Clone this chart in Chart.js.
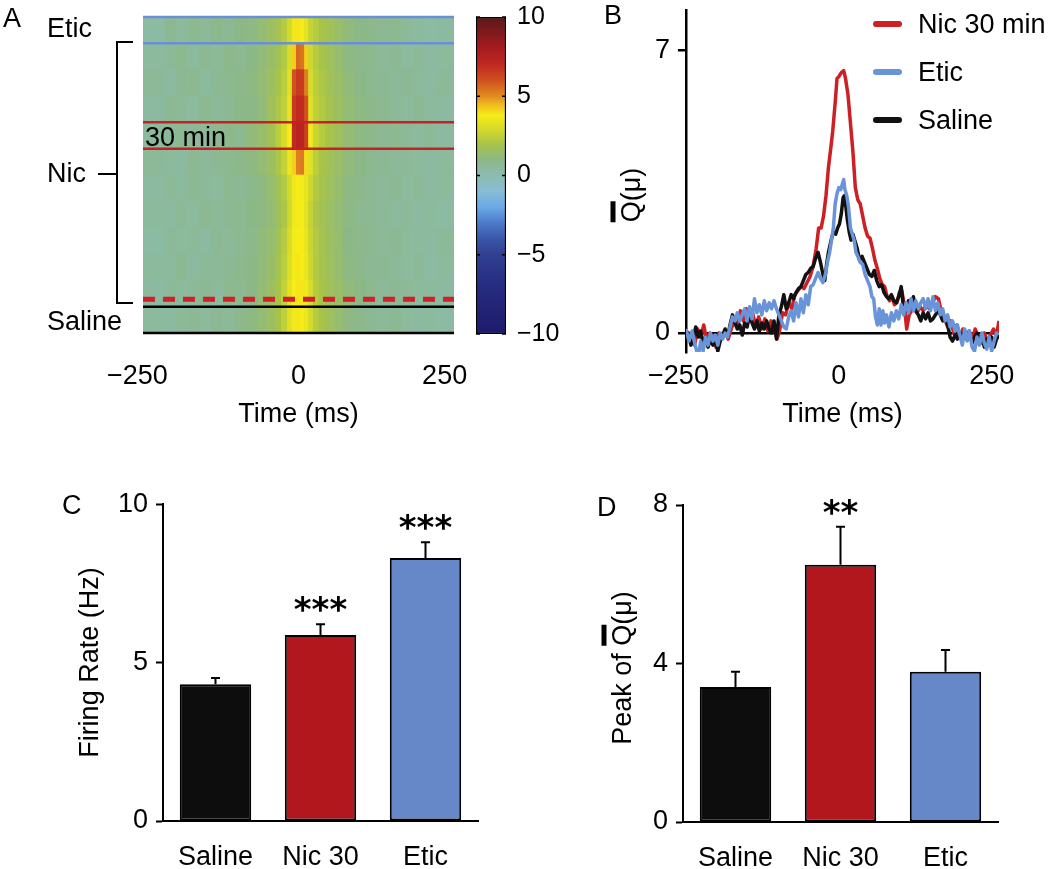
<!DOCTYPE html>
<html>
<head>
<meta charset="utf-8">
<script src="https://cdn.jsdelivr.net/npm/chart.js@4.4.0/dist/chart.umd.min.js"></script>
<style>
  body { margin: 0; background: #fff; font-family: "Liberation Sans", Arial, sans-serif; }
  #fig { position: relative; width: 1050px; height: 869px; overflow: hidden; background: #fff; }
  canvas { position: absolute; }
  .t { position: absolute; font-size: 27px; line-height: 1; color: #000; white-space: nowrap; transform: translateY(-50%); }
  .ln { position: absolute; background: #000; }
  .rot { position: absolute; font-size: 27px; line-height: 1; white-space: nowrap; transform: translate(-50%, -50%) rotate(-90deg); }
  .ov { text-decoration: overline; text-decoration-thickness: 5px; }
</style>
</head>
<body>
<div id="fig">
  <canvas id="heat" width="470" height="440" style="left:0;top:0"></canvas>
  <canvas id="cbar" width="110" height="360" style="left:460px;top:0"></canvas>
  <canvas id="ccg" width="490" height="440" style="left:560px;top:0"></canvas>
  <canvas id="rate" width="520" height="389" style="left:0;top:480px"></canvas>
  <canvas id="peak" width="520" height="389" style="left:530px;top:480px"></canvas>

  <div class="t" style="left:3px;top:18px">A</div>
  <div class="t" style="left:604px;top:15px">B</div>
  <div class="t" style="left:62px;top:505px">C</div>
  <div class="t" style="left:597px;top:507px">D</div>

  <div class="t" style="left:47px;top:28px">Etic</div>
  <div class="t" style="left:47px;top:173px">Nic</div>
  <div class="t" style="left:47px;top:321px">Saline</div>
  <div class="t" style="left:145px;top:137px">30 min</div>
  <div class="ln" style="left:116px;top:42px;width:2px;height:262px"></div>
  <div class="ln" style="left:116px;top:41px;width:17px;height:2px"></div>
  <div class="ln" style="left:116px;top:302px;width:17px;height:2px"></div>
  <div class="ln" style="left:98px;top:173px;width:18px;height:2px"></div>

  <div class="rot" style="left:631px;top:195px"><span class="ov">Q</span>(μ)</div>
  <div class="rot" style="left:622px;top:668px">Peak of <span class="ov">Q</span>(μ)</div>
  <div id="legend"></div>
</div>

<script>
// ---------- data ----------
// A: heat map, time bin edges (ms) and one row of values per recording block, top to bottom
const timeEdges = [-266,-230,-210,-190,-170,-150,-130,-110,-90,-70,-55,-40,-30,-20,-12,-5,2,9,16,24,34,45,60,75,95,115,135,155,175,195,215,235,266];
const heatRows = ['Etic','Nic 10','Nic 9','Nic 8','Nic 7','Nic 6','Nic 5','Nic 4','Nic 3','Nic 2','Nic 1','Saline'];
const heat = [
  [0.3,0.7,0.5,0.8,0.6,0.9,0.7,1.0,1.1,1.3,1.6,1.9,2.3,2.9,3.6,3.9,3.8,3.3,2.6,2.3,2.0,1.8,1.5,1.2,1.0,0.9,0.7,0.8,0.6,0.5,0.3,0.4],
  [0.5,0.6,0.8,0.5,0.7,0.6,0.9,0.8,1.0,1.2,1.5,1.8,2.2,3.0,4.2,5.6,5.4,4.2,2.8,2.3,2.0,1.7,1.4,1.1,0.9,0.8,0.6,0.7,0.5,0.6,0.4,0.5],
  [0.6,0.4,0.7,0.8,0.5,0.7,0.8,0.9,1.1,1.3,1.6,2.0,2.4,3.2,6.0,6.6,6.5,5.2,3.0,2.4,2.1,1.8,1.5,1.2,1.0,0.8,0.7,0.6,0.7,0.5,0.4,0.6],
  [0.4,0.7,0.6,0.5,0.8,0.6,0.7,1.0,1.0,1.2,1.7,2.1,2.5,3.4,6.6,7.0,6.9,6.0,3.2,2.5,2.2,1.9,1.6,1.3,1.1,0.9,0.8,0.6,0.5,0.7,0.5,0.4],
  [0.5,0.6,0.7,0.6,0.5,0.8,0.9,0.8,1.2,1.4,1.8,2.4,3.0,3.8,7.0,7.4,7.3,6.4,3.6,2.7,2.3,2.0,1.7,1.3,1.1,0.9,0.7,0.8,0.6,0.5,0.6,0.4],
  [0.6,0.5,0.4,0.7,0.6,0.7,0.8,0.9,1.1,1.3,1.6,2.1,2.6,3.5,4.2,5.2,5.3,4.0,3.2,2.4,2.0,1.8,1.5,1.2,1.0,0.8,0.7,0.6,0.6,0.5,0.4,0.5],
  [0.4,0.6,0.5,0.7,0.6,0.5,0.8,0.7,0.9,1.1,1.4,1.8,2.2,2.9,3.6,3.8,3.7,3.4,2.8,2.2,1.9,1.7,1.4,1.1,0.9,0.7,0.6,0.7,0.5,0.6,0.4,0.5],
  [0.5,0.4,0.6,0.5,0.7,0.6,0.7,0.8,1.0,1.1,1.3,1.7,2.1,2.8,3.6,3.7,3.8,3.3,2.6,2.1,1.8,1.6,1.3,1.1,0.8,0.7,0.6,0.5,0.6,0.4,0.5,0.3],
  [0.3,0.6,0.5,0.6,0.4,0.7,0.6,0.8,0.9,1.2,1.4,1.8,2.3,3.0,3.7,3.8,3.8,3.4,2.7,2.2,1.9,1.6,1.4,1.0,0.9,0.8,0.6,0.7,0.5,0.5,0.4,0.6],
  [0.5,0.5,0.7,0.4,0.6,0.6,0.7,0.9,1.0,1.2,1.5,1.9,2.4,3.1,3.7,3.9,3.8,3.5,2.8,2.2,1.9,1.7,1.4,1.1,0.9,0.7,0.7,0.6,0.5,0.6,0.3,0.5],
  [0.4,0.6,0.5,0.6,0.7,0.5,0.8,0.8,1.0,1.3,1.6,2.0,2.6,3.3,3.8,3.9,3.9,3.6,3.0,2.3,2.0,1.7,1.5,1.2,1.0,0.8,0.6,0.7,0.6,0.5,0.5,0.4],
  [0.5,0.4,0.6,0.7,0.5,0.7,0.6,0.9,1.1,1.3,1.6,2.0,2.5,3.2,3.7,3.9,3.8,3.5,2.9,2.3,2.0,1.7,1.4,1.1,0.9,0.7,0.6,0.7,0.5,0.4,0.5,0.3]
];
const timeTicks = [-250, 0, 250];
const cbarTicks = [-10, -5, 0, 5, 10];
const cmapVals = [-10,-7,-5,-4,-3,-2,-1,0,1,2,3,3.8,4.5,5,6,7,8,9,10];
const cmapCols = ['#1e1a6a','#262c80','#30408f','#3a56a8','#4c7ac8','#6aaae6','#88bcd4','#8cbcb0','#8cb888','#a8c448','#d8dc28','#f6ec18','#f0b820','#e08c20','#d05020','#c02820','#a81c20','#801a1c','#5a1818'];

// B: averaged Q(mu) traces
const nicT = [-250,-245,-240,-236,-231,-226,-221,-216,-211,-206,-201,-196,-191,-186,-181,-176,-171,-166,-161,-156,-151,-146,-141,-136,-131,-126,-121,-116,-111,-106,-101,-97,-92,-87,-82,-77,-72,-67,-62,-57,-52,-47,-42,-37,-33,-29,-25,-21,-17,-13,-10,-6,-3,0,4,8,11,15,19,23,27,31,35,39,43,47,51,55,59,63,67,71,75,79,83,87,91,95,99,103,107,111,115,119,123,128,133,138,143,148,153,158,163,168,173,178,183,188,193,198,203,208,213,218,223,228,233,238,243,248,253,258,262];
const nicQ = [0.1,-0.2,0.0,-0.3,0.1,-0.1,0.2,-0.2,0.0,-0.1,-0.35,0.0,-0.1,0.05,-0.15,0.1,0.3,0.15,0.55,0.3,0.6,0.35,0.5,0.15,0.4,0.1,0.35,0.05,0.3,0.1,-0.15,0.05,0.5,0.45,0.75,0.6,0.95,1.05,1.15,1.1,1.25,1.4,1.65,2.1,2.6,2.6,2.9,3.4,4.1,4.6,5.0,5.7,6.3,6.35,6.45,6.5,6.3,5.9,5.2,4.5,3.6,3.3,3.2,2.9,2.6,2.4,2.35,2.1,1.8,1.6,1.35,1.2,1.15,0.9,0.8,0.9,0.7,0.75,1.0,1.05,0.7,0.1,0.45,0.55,0.6,0.5,0.65,0.55,0.7,0.6,0.75,0.9,0.85,0.5,0.35,0.15,0.3,0.0,0.2,-0.1,0.1,-0.15,0.05,-0.2,0.1,-0.1,-0.25,0.0,-0.2,-0.05,0.1,-0.05,0.3];
const eticT = [-250,-245,-240,-235,-230,-226,-222,-218,-214,-210,-206,-202,-198,-194,-190,-186,-182,-178,-174,-170,-166,-162,-158,-154,-150,-146,-142,-138,-134,-130,-126,-122,-118,-114,-110,-106,-102,-98,-94,-90,-86,-82,-78,-74,-70,-66,-62,-58,-54,-50,-46,-42,-38,-34,-30,-26,-22,-18,-15,-12,-9,-6,-3,0,3,6,8,10,13,16,19,22,25,28,31,35,39,43,47,51,54,57,60,63,66,69,72,75,78,82,86,90,94,98,102,106,110,114,118,122,126,130,134,138,142,146,150,154,158,162,166,170,174,178,182,186,190,194,198,202,206,210,214,218,222,226,230,234,238,242,246,250,254,258,261];
const eticQ = [0.1,-0.2,0.05,-0.3,-0.6,-0.2,-0.45,-0.1,-0.3,0.0,-0.2,-0.05,-0.3,0.0,-0.15,0.0,-0.1,0.15,0.4,0.3,0.5,0.3,0.45,0.6,0.3,0.65,0.35,0.85,0.5,0.7,0.45,0.8,0.55,0.75,0.6,0.8,0.6,0.45,0.3,0.15,0.1,0.4,0.55,0.3,0.75,0.4,0.85,0.5,0.95,0.7,1.15,1.2,1.35,1.5,1.35,1.25,1.45,1.8,2.0,2.3,2.6,3.2,3.45,3.6,3.55,3.7,3.8,3.55,3.4,3.1,2.6,2.45,2.3,2.0,1.9,1.75,1.7,1.45,1.3,1.15,0.9,0.85,0.4,0.2,0.6,0.2,0.55,0.25,0.45,0.15,0.5,0.3,0.55,0.35,0.7,0.45,0.75,0.5,0.85,0.55,0.8,0.6,0.75,0.85,0.6,0.85,0.55,0.9,0.55,0.75,0.45,0.6,0.3,0.45,0.15,0.3,0.05,0.2,-0.05,-0.3,0.1,-0.2,0.05,-0.35,-0.45,-0.1,-0.3,0.0,-0.25,-0.4,-0.1,-0.45,-0.2,0.0,-0.05];
const salT = [-250,-246,-242,-238,-234,-230,-226,-222,-218,-214,-210,-206,-202,-198,-194,-190,-186,-182,-178,-174,-170,-166,-162,-158,-154,-150,-146,-142,-138,-134,-130,-126,-122,-118,-114,-110,-106,-102,-98,-94,-90,-86,-82,-78,-74,-70,-66,-62,-58,-54,-50,-46,-42,-38,-34,-30,-26,-23,-20,-17,-14,-11,-8,-5,-2,1,4,7,9,11,14,17,20,23,26,30,34,38,42,46,50,54,58,62,66,70,74,78,82,86,90,94,98,102,106,110,114,118,122,126,130,134,138,142,146,150,154,158,162,166,170,174,178,182,186,190,194,198,202,206,210,214,218,222,226,230,234,238,242,246,250,254,258,262];
const salQ = [-0.2,0.0,-0.3,-0.1,0.15,-0.1,0.05,-0.25,-0.1,-0.35,-0.15,-0.3,-0.1,-0.45,-0.2,-0.05,0.1,-0.1,0.2,0.45,0.25,0.1,0.2,-0.05,0.25,0.15,0.45,0.25,0.1,0.3,0.05,0.25,0.1,0.3,0.1,0.0,0.3,-0.15,0.45,0.65,0.95,0.6,0.75,0.95,0.85,1.0,1.1,1.15,1.3,1.45,1.5,1.6,1.65,1.85,2.0,1.75,1.45,1.3,1.7,2.0,2.2,2.4,2.5,2.45,2.6,2.7,2.95,3.35,3.4,3.2,2.8,2.5,2.3,2.45,2.3,2.1,1.8,1.9,1.75,1.6,1.45,1.4,1.55,1.3,1.15,1.2,1.0,0.9,0.85,0.95,0.8,0.75,0.9,1.15,0.6,0.55,0.8,0.65,0.9,0.55,0.45,0.3,0.5,0.35,0.5,0.3,0.35,0.45,0.55,0.45,0.3,0.4,0.2,-0.1,-0.2,-0.05,-0.15,0.0,-0.1,0.05,-0.15,-0.05,-0.25,-0.1,0.0,-0.15,-0.05,-0.35,-0.15,-0.3,-0.1,-0.35,-0.15,-0.05];
const ccgYTicks = [0, 7];

// C and D: group means and SEM
const groups = ['Saline', 'Nic 30', 'Etic'];
const groupColors = ['#0d0d0d', '#b2171e', '#6688c8'];
const rateHz = [4.32, 5.87, 8.30];
const rateSem = [0.19, 0.34, 0.50];
const rateStars = ['', '***', '***'];
const peakQ = [3.41, 6.49, 3.79];
const peakSem = [0.38, 0.96, 0.55];
const peakStars = ['', '**', ''];

// ---------- helpers ----------
Chart.defaults.font.family = '"Liberation Sans", Arial, sans-serif';
Chart.defaults.color = '#000';
const F27 = { size: 27 };
const MINUS = '\u2212';

function hexRgb(h) {
  return [parseInt(h.slice(1, 3), 16), parseInt(h.slice(3, 5), 16), parseInt(h.slice(5, 7), 16)];
}
function cmap(v) {
  if (v <= cmapVals[0]) return cmapCols[0];
  for (let i = 1; i < cmapVals.length; i++) {
    if (v <= cmapVals[i]) {
      const f = (v - cmapVals[i - 1]) / (cmapVals[i] - cmapVals[i - 1]);
      const a = hexRgb(cmapCols[i - 1]), b = hexRgb(cmapCols[i]);
      return 'rgb(' + a.map((c, k) => Math.round(c + (b[k] - c) * f)).join(',') + ')';
    }
  }
  return cmapCols[cmapCols.length - 1];
}
// minus sign, padded so the digits sit near the tick like the original
function timeLabel(v) {
  return v < 0 ? MINUS + Math.abs(v) + '\u2007' : String(v);
}
function heatLabel(v) {
  return v < 0 ? MINUS + Math.abs(v) + '\u2007\u2007' : String(v);
}
function noPadX(s, h) { s.height = h; s.paddingLeft = 0; s.paddingRight = 0; }
function noPadY(s, w) { s.width = w; s.paddingTop = 0; s.paddingBottom = 0; }

// ---------- A: heat map ----------
const heatLines = {
  id: 'heatLines',
  afterDatasetsDraw(chart) {
    const { ctx, chartArea: { left, right, top, bottom } } = chart;
    const h = (bottom - top) / heatRows.length;
    function line(k, color, w, dash) {
      const y = top + k * h;
      ctx.save();
      ctx.strokeStyle = color;
      ctx.lineWidth = w;
      ctx.setLineDash(dash || []);
      ctx.beginPath();
      ctx.moveTo(left, y);
      ctx.lineTo(right, y);
      ctx.stroke();
      ctx.restore();
    }
    line(0, '#6a8fd6', 2.5);
    line(1, '#6a8fd6', 2.5);
    line(4, '#c81e24', 2.5);
    line(5, '#c81e24', 2.5);
    line(10.72, '#d0202a', 5, [12, 8]);
    line(11, '#000', 2.5);
    line(12, '#000', 2.5);
  }
};

new Chart(document.getElementById('heat'), {
  type: 'bar',
  data: {
    labels: heatRows,
    datasets: timeEdges.slice(0, -1).map((t0, c) => ({
      data: heatRows.map(() => [t0, timeEdges[c + 1]]),
      backgroundColor: heat.map(row => cmap(row[c])),
      borderWidth: 0,
      grouped: false,
      barPercentage: 1,
      categoryPercentage: 1
    }))
  },
  options: {
    indexAxis: 'y',
    responsive: false,
    animation: false,
    layout: { padding: { left: 143, right: 16, top: 17, bottom: 0 } },
    plugins: { legend: { display: false }, tooltip: { enabled: false } },
    scales: {
      y: { display: false },
      x: {
        type: 'linear', min: -266, max: 266,
        afterBuildTicks: s => { s.ticks = timeTicks.map(v => ({ value: v })); },
        grid: { display: false, drawTicks: false },
        border: { display: false },
        ticks: { font: F27, padding: 27, maxRotation: 0, callback: heatLabel },
        title: { display: true, text: 'Time (ms)', font: F27, padding: { top: 0, bottom: 9 } },
        afterFit: s => noPadX(s, 107)
      }
    }
  },
  plugins: [heatLines]
});

// colour bar
const cbarTicksPlugin = {
  id: 'cbarTicks',
  afterDatasetsDraw(chart) {
    const { ctx, chartArea: { left, right } } = chart;
    const ys = chart.scales.y;
    ctx.save();
    ctx.strokeStyle = '#000';
    ctx.lineWidth = 1.5;
    cbarTicks.forEach(v => {
      const y = ys.getPixelForValue(v);
      ctx.beginPath();
      ctx.moveTo(left, y); ctx.lineTo(left + 4, y);
      ctx.moveTo(right, y); ctx.lineTo(right - 4, y);
      ctx.stroke();
    });
    ctx.restore();
  }
};

new Chart(document.getElementById('cbar'), {
  type: 'bar',
  data: {
    labels: ['scale'],
    datasets: [{
      data: [[-10, 10]],
      backgroundColor: ctx => {
        const ca = ctx.chart.chartArea;
        if (!ca) return '#888';
        const g = ctx.chart.ctx.createLinearGradient(0, ca.bottom, 0, ca.top);
        cmapVals.forEach((v, i) => g.addColorStop((v + 10) / 20, cmapCols[i]));
        return g;
      },
      borderColor: '#000',
      borderWidth: 1.5,
      borderSkipped: false,
      barPercentage: 1,
      categoryPercentage: 1
    }]
  },
  options: {
    responsive: false,
    animation: false,
    layout: { padding: { left: 16, right: 0, top: 17, bottom: 26 } },
    plugins: { legend: { display: false }, tooltip: { enabled: false } },
    scales: {
      x: { display: false },
      y: {
        position: 'right', min: -10, max: 10,
        afterBuildTicks: s => { s.ticks = cbarTicks.map(v => ({ value: v })); },
        grid: { display: false, drawTicks: false },
        border: { display: false },
        ticks: { font: { size: 25 }, padding: 11, callback: v => v < 0 ? MINUS + Math.abs(v) : String(v) },
        afterFit: s => noPadY(s, 64)
      }
    }
  },
  plugins: [cbarTicksPlugin]
});

// ---------- B: Q(mu) traces ----------
const ccgSeries = [
  { name: 'Nic 30 min', t: nicT, q: nicQ, color: '#cc1f26', order: 2 },
  { name: 'Etic', t: eticT, q: eticQ, color: '#6a94d8', order: 0 },
  { name: 'Saline', t: salT, q: salQ, color: '#111111', order: 1 }
];

new Chart(document.getElementById('ccg'), {
  type: 'line',
  data: {
    datasets: ccgSeries.map(s => ({
      label: s.name,
      data: s.t.map((x, i) => ({ x: x, y: s.q[i] })),
      borderColor: s.color,
      borderWidth: 3.5,
      pointRadius: 0,
      tension: 0,
      borderJoinStyle: 'round',
      order: s.order
    }))
  },
  options: {
    responsive: false,
    animation: false,
    layout: { padding: { left: 0, right: 51, top: 10, bottom: 0 } },
    plugins: { legend: { display: false }, tooltip: { enabled: false } },
    scales: {
      x: {
        type: 'linear', min: -250, max: 262,
        afterBuildTicks: s => { s.ticks = timeTicks.map(v => ({ value: v })); },
        grid: { display: false, drawTicks: false },
        border: { display: false },
        ticks: { font: F27, padding: 8, maxRotation: 0, callback: timeLabel },
        title: { display: true, text: 'Time (ms)', font: F27, padding: { top: 0, bottom: 9 } },
        afterFit: s => noPadX(s, 88)
      },
      y: {
        min: -0.47, max: 8,
        afterBuildTicks: s => { s.ticks = ccgYTicks.map(v => ({ value: v })); },
        grid: {
          color: c => c.tick && c.tick.value === 0 ? '#000' : 'rgba(0,0,0,0)',
          lineWidth: 2.5, tickLength: 8, tickColor: '#000', tickWidth: 2.5
        },
        border: { color: '#000', width: 2.5 },
        ticks: { font: F27, padding: 8 },
        afterFit: s => noPadY(s, 126)
      }
    }
  }
});

// legend for B
const legend = document.getElementById('legend');
ccgSeries.forEach((s, i) => {
  const y = 24 + i * 48;
  const sw = document.createElement('div');
  sw.style.cssText = 'position:absolute;left:873px;top:' + (y - 3) + 'px;width:29px;height:6px;border-radius:3px;background:' + s.color;
  legend.appendChild(sw);
  const tx = document.createElement('div');
  tx.className = 't';
  tx.style.left = '918px';
  tx.style.top = y + 'px';
  tx.textContent = s.name;
  legend.appendChild(tx);
});

// ---------- C and D: bar charts ----------
function errPlugin(sem, stars) {
  return {
    id: 'err',
    afterDatasetsDraw(chart) {
      const { ctx } = chart;
      const ys = chart.scales.y;
      const vals = chart.data.datasets[0].data;
      chart.getDatasetMeta(0).data.forEach((bar, i) => {
        const yTop = ys.getPixelForValue(vals[i] + sem[i]);
        ctx.save();
        ctx.strokeStyle = '#000';
        ctx.lineWidth = 2;
        ctx.beginPath();
        ctx.moveTo(bar.x, bar.y);
        ctx.lineTo(bar.x, yTop);
        ctx.moveTo(bar.x - 4.5, yTop);
        ctx.lineTo(bar.x + 4.5, yTop);
        ctx.stroke();
        if (stars[i]) {
          ctx.font = 'bold 34px "DejaVu Sans", sans-serif';
          ctx.fillStyle = '#000';
          ctx.textAlign = 'center';
          ctx.textBaseline = 'alphabetic';
          const m = ctx.measureText(stars[i]);
          const cy = yTop - 20;
          ctx.fillText(stars[i], bar.x, cy + (m.actualBoundingBoxAscent - m.actualBoundingBoxDescent) / 2);
        }
        ctx.restore();
      });
    }
  };
}

function barChart(id, vals, sem, stars, yMax, step, pad, yTitle) {
  return new Chart(document.getElementById(id), {
    type: 'bar',
    data: {
      labels: groups,
      datasets: [{
        data: vals,
        backgroundColor: groupColors,
        borderColor: '#000',
        borderWidth: 2,
        borderSkipped: false,
        barPercentage: 0.68,
        categoryPercentage: 1
      }]
    },
    options: {
      responsive: false,
      animation: false,
      layout: { padding: pad.layout },
      plugins: { legend: { display: false }, tooltip: { enabled: false } },
      scales: {
        x: {
          grid: { display: true, drawOnChartArea: false, drawTicks: false },
          border: { color: '#000', width: 2 },
          ticks: { font: F27, padding: 20 },
          afterFit: s => { s.height = pad.xh; }
        },
        y: {
          min: 0, max: yMax,
          ticks: { stepSize: step, font: F27, padding: 8 },
          grid: { drawOnChartArea: false, tickLength: 7, tickColor: '#000', tickWidth: 2 },
          border: { color: '#000', width: 2 },
          title: yTitle ? { display: true, text: yTitle, font: F27, padding: { top: 74, bottom: 0 } } : { display: false },
          afterFit: s => { s.width = pad.yw; }
        }
      }
    },
    plugins: [errPlugin(sem, stars)]
  });
}

barChart('rate', rateHz, rateSem, rateStars, 10, 5,
  { layout: { left: 0, right: 42, top: 24, bottom: 0 }, xh: 48, yw: 163 }, 'Firing Rate (Hz)');
barChart('peak', peakQ, peakSem, peakStars, 8, 4,
  { layout: { left: 0, right: 52, top: 25, bottom: 0 }, xh: 47, yw: 153 }, null);
</script>
</body>
</html>
